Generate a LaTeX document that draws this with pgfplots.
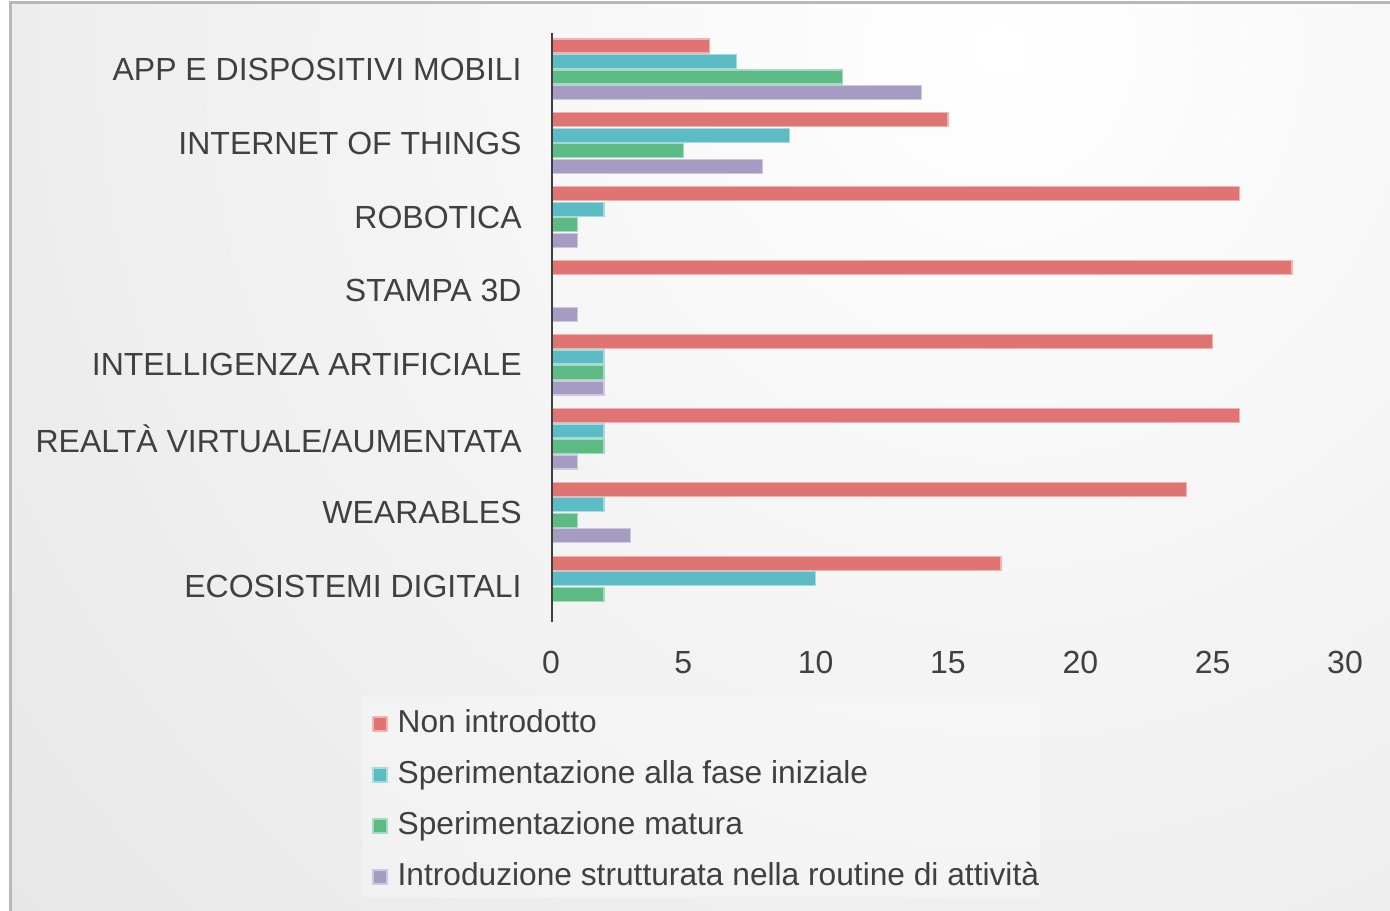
\documentclass[border=0pt]{standalone}
\usepackage{pgfplots}
\pgfplotsset{compat=1.18}
\usepackage{fontspec}
\setmainfont{Liberation Sans}
\definecolor{cRed}{HTML}{E07473}
\definecolor{cCyan}{HTML}{5BBCC5}
\definecolor{cGreen}{HTML}{5CBB84}
\definecolor{cPurple}{HTML}{A69BC3}
\definecolor{txt}{HTML}{404040}
\definecolor{axl}{HTML}{3F3F3F}
\begin{document}
\begin{tikzpicture}
\begin{scope}[x=0.5pt,y=0.5pt]
\useasboundingbox (0,0) rectangle (1390,910);
\begin{scope}
\clip (10,907) rectangle (1400,-10);
\shade[inner color=white, outer color=black!20] (1000,860) circle (2800);
\end{scope}
\draw[black!28, line width=1.5pt] (10,-10) -- (10,907) -- (1400,907);
\fill[white, opacity=0.3] (362,213) rectangle (1040,13);
\end{scope}
\begin{axis}[
  at={(275.5pt,144pt)}, anchor=south west,
  scale only axis, width=397pt, height=294.5pt,
  xbar, bar width=7pt,
  xmin=0, xmax=30, ymin=-0.49, ymax=7.48, y dir=reverse,
  ytick={0,...,7},
  yticklabels={APP E DISPOSITIVI MOBILI, INTERNET OF THINGS, ROBOTICA, STAMPA 3D, INTELLIGENZA ARTIFICIALE, REALTÀ VIRTUALE/AUMENTATA, WEARABLES, ECOSISTEMI DIGITALI},
  xtick={0,5,...,30},
  major tick length=0pt,
  tick style={draw=none},
  axis line style={draw=none},
  /pgf/number format/assume math mode=true,
  ticklabel style={font=\fontsize{16}{19}\selectfont, text=txt},
  xticklabel style={inner sep=0pt, anchor=north, yshift=-14.5pt},
  yticklabel style={inner sep=0pt, anchor=east, xshift=-14.5pt},
  legend cell align=left,
  legend style={at={(axis description cs:-0.2254,-0.1469)}, anchor=north west,
    draw=none, fill=none, inner sep=0pt, outer sep=0pt,
    font=\fontsize{15.85}{19}\selectfont, text=txt,
    row sep=10pt, column sep=5pt,
    nodes={inner sep=0pt, text height=12pt, text depth=3.5pt}},
  legend image code/.code={\draw[#1, line width=0.8pt] (0pt,-3.5pt) rectangle (7pt,3.5pt);},
]
\addplot[fill=cRed, draw=cRed!55!white, line width=0.6pt, bar shift=11.625pt] coordinates {(6,0)(15,1)(26,2)(28,3)(25,4)(26,5)(24,6)(17,7)};
\addplot[fill=cCyan, draw=cCyan!55!white, line width=0.6pt, bar shift=3.875pt] coordinates {(7,0)(9,1)(2,2)(0,3)(2,4)(2,5)(2,6)(10,7)};
\addplot[fill=cGreen, draw=cGreen!55!white, line width=0.6pt, bar shift=-3.875pt] coordinates {(11,0)(5,1)(1,2)(0,3)(2,4)(2,5)(1,6)(2,7)};
\addplot[fill=cPurple, draw=cPurple!55!white, line width=0.6pt, bar shift=-11.625pt] coordinates {(14,0)(8,1)(1,2)(1,3)(2,4)(1,5)(3,6)(0,7)};
\legend{Non introdotto, Sperimentazione alla fase iniziale, Sperimentazione matura, Introduzione strutturata nella routine di attività}
\draw[axl, line width=1.5pt] (axis cs:0,-0.49) -- (axis cs:0,7.48);
\end{axis}
\end{tikzpicture}
\end{document}
